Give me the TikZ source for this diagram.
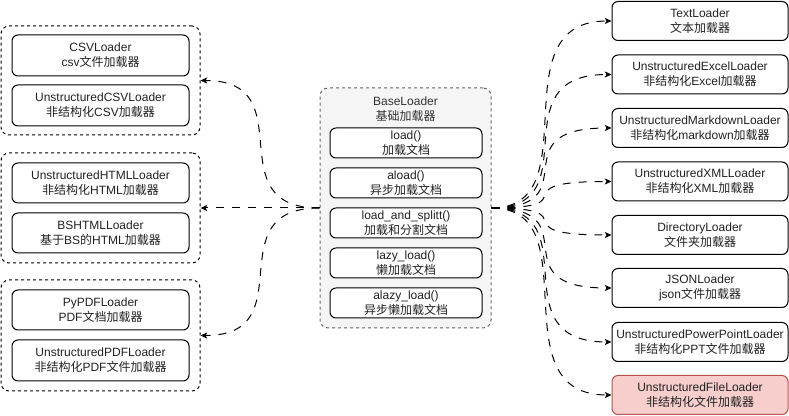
\documentclass[tikz,border=0pt]{standalone}
\usepackage{fontspec}
\setmainfont{Liberation Sans}
\newfontfamily\cjk{Noto Sans CJK SC}
\newcommand\zh[1]{{\cjk #1}}
\usetikzlibrary{arrows.meta}
\definecolor{textc}{HTML}{222222}
\definecolor{basegray}{HTML}{666666}
\definecolor{basefill}{HTML}{F5F5F5}
\definecolor{titlec}{HTML}{333333}
\definecolor{redfill}{HTML}{F8CECC}
\definecolor{redline}{HTML}{B85450}
\tikzset{
  ldrbox/.style 2 args={draw=black, fill=white, rounded corners=4.5pt, line width=0.75pt,
    minimum width=#1*0.75pt, minimum height=#2*0.75pt, inner sep=0pt, align=center,
    font=\fontsize{9pt}{11.25pt}\selectfont, text=textc},
  grpbox/.style 2 args={draw=black, rounded corners=6pt, line width=0.75pt,
    dash pattern=on 2.25pt off 2.25pt,
    minimum width=#1*0.75pt, minimum height=#2*0.75pt, inner sep=0pt},
  basebox/.style 2 args={draw=basegray, fill=basefill, rounded corners=6pt, line width=0.75pt,
    dash pattern=on 2.25pt off 2.25pt,
    minimum width=#1*0.75pt, minimum height=#2*0.75pt, inner sep=0pt},
  conn/.style={draw=black, line width=0.75pt, dash pattern=on 6pt off 6pt,
    -{Stealth[length=5pt,width=4.5pt,inset=1.2pt]}},
  redbox/.style={fill=redfill, draw=redline},
}
\begin{document}
\begin{tikzpicture}[x=0.75pt,y=-0.75pt]
\useasboundingbox (0,0) rectangle (789,416);
% left groups
\node[grpbox={199}{109}] (g1) at (100.5,80.5) {};
\node[grpbox={199}{110}] (g2) at (100.5,208) {};
\node[grpbox={199}{111}] (g3) at (100.5,335.5) {};
\node[ldrbox={177}{41}] (csv) at (100.5,55.5) {CSVLoader\\csv\zh{文件加载器}};
\node[ldrbox={177}{41}] (ucsv) at (100.5,105.5) {UnstructuredCSVLoader\\\zh{非结构化}CSV\zh{加载器}};
\node[ldrbox={177}{40}] (uhtml) at (100.5,183) {UnstructuredHTMLLoader\\\zh{非结构化}HTML\zh{加载器}};
\node[ldrbox={177}{40}] (bshtml) at (100.5,233) {BSHTMLLoader\\\zh{基于}BS\zh{的}HTML\zh{加载器}};
\node[ldrbox={177}{40}] (pypdf) at (100.5,310) {PyPDFLoader\\PDF\zh{文档加载器}};
\node[ldrbox={177}{41}] (updf) at (100.5,360.5) {UnstructuredPDFLoader\\\zh{非结构化}PDF\zh{文件加载器}};
% base loader
\node[basebox={171}{240}] (base) at (405.5,208) {};
\node[align=center, inner sep=0pt, text=titlec, font=\fontsize{9pt}{11.25pt}\selectfont] (basetitle) at (405.5,109.5) {BaseLoader\\\zh{基础加载器}};
\node[ldrbox={152}{30}] (m1) at (406,143) {load()\\\zh{加载文档}};
\node[ldrbox={152}{30}] (m2) at (406,183) {aload()\\\zh{异步加载文档}};
\node[ldrbox={152}{30}] (m3) at (406,223) {load\_and\_splitt()\\\zh{加载和分割文档}};
\node[ldrbox={152}{30}] (m4) at (406,263) {lazy\_load()\\\zh{懒加载文档}};
\node[ldrbox={152}{30}] (m5) at (406,303) {alazy\_load()\\\zh{异步懒加载文档}};
% right boxes
\node[ldrbox={176}{39}] (r1) at (700,21) {TextLoader\\\zh{文本加载器}};
\node[ldrbox={176}{39}] (r2) at (700,74.5) {UnstructuredExcelLoader\\\zh{非结构化}Excel\zh{加载器}};
\node[ldrbox={176}{39}] (r3) at (700,128) {UnstructuredMarkdownLoader\\\zh{非结构化}markdown\zh{加载器}};
\node[ldrbox={176}{39}] (r4) at (700,181.5) {UnstructuredXMLLoader\\\zh{非结构化}XML\zh{加载器}};
\node[ldrbox={176}{39}] (r5) at (700,235) {DirectoryLoader\\\zh{文件夹加载器}};
\node[ldrbox={176}{39}] (r6) at (700,288) {JSONLoader\\json\zh{文件加载器}};
\node[ldrbox={176}{39}] (r7) at (700,342) {UnstructuredPowerPointLoader\\\zh{非结构化}PPT\zh{文件加载器}};
\node[ldrbox={176}{39},redbox] (r8) at (700,395) {UnstructuredFileLoader\\\zh{非结构化文件加载器}};
% connectors left
\draw[conn] (base.west) .. controls +(-105,0) and +(105,0) .. (g1.east);
\draw[conn] (base.west) -- (g2.east);
\draw[conn] (base.west) .. controls +(-105,0) and +(105,0) .. (g3.east);
% connectors right
\foreach \r in {r1,r2,r3,r4,r5,r6,r7,r8}
  \draw[conn] (base.east) .. controls +(100,0) and +(-115,0) .. (\r.west);
\end{tikzpicture}
\end{document}
